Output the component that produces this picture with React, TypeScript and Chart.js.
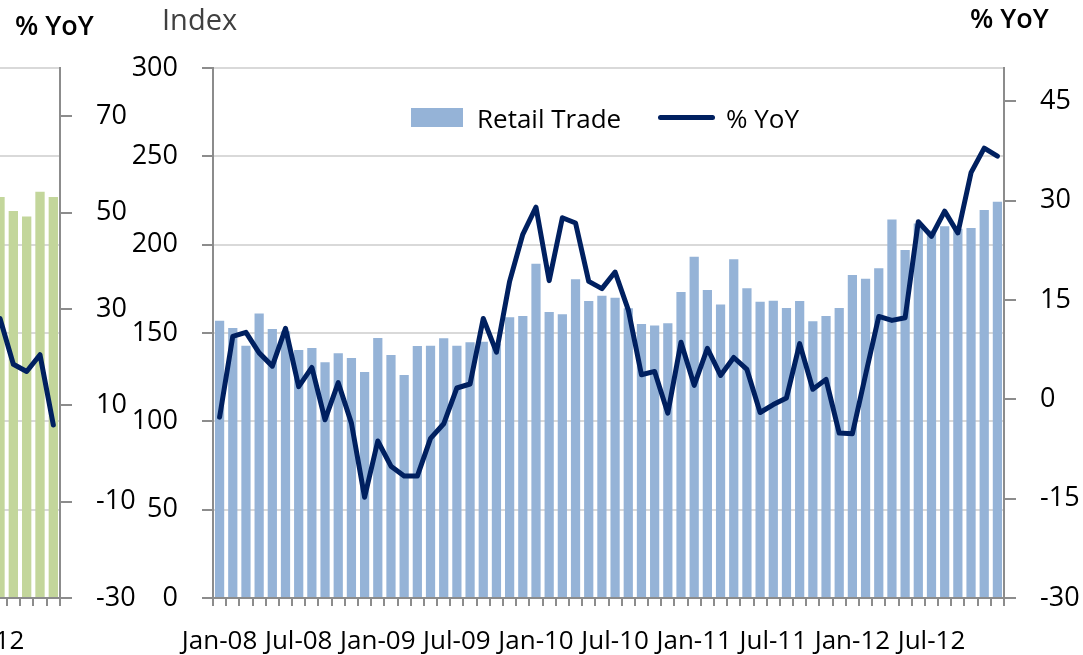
import React, { useEffect, useRef } from "react";
import { Chart, registerables } from "chart.js";

Chart.register(...registerables);

// ---------------- data ----------------
const months = [
  "Jan-08", "Feb-08", "Mar-08", "Apr-08", "May-08", "Jun-08", "Jul-08", "Aug-08", "Sep-08", "Oct-08", "Nov-08", "Dec-08",
  "Jan-09", "Feb-09", "Mar-09", "Apr-09", "May-09", "Jun-09", "Jul-09", "Aug-09", "Sep-09", "Oct-09", "Nov-09", "Dec-09",
  "Jan-10", "Feb-10", "Mar-10", "Apr-10", "May-10", "Jun-10", "Jul-10", "Aug-10", "Sep-10", "Oct-10", "Nov-10", "Dec-10",
  "Jan-11", "Feb-11", "Mar-11", "Apr-11", "May-11", "Jun-11", "Jul-11", "Aug-11", "Sep-11", "Oct-11", "Nov-11", "Dec-11",
  "Jan-12", "Feb-12", "Mar-12", "Apr-12", "May-12", "Jun-12", "Jul-12", "Aug-12", "Sep-12", "Oct-12", "Nov-12", "Dec-12",
];

const retailIndex = [
  157.0, 152.8, 142.8, 161.1, 152.3, 151.0, 140.4, 141.5, 133.4, 138.5, 135.8, 127.9,
  147.2, 137.5, 126.2, 142.6, 142.8, 147.0, 142.8, 144.7, 145.0, 144.0, 158.9, 159.6,
  189.2, 161.9, 160.6, 180.4, 168.1, 171.1, 170.0, 164.0, 155.1, 154.3, 155.5, 173.2,
  193.2, 174.3, 166.2, 191.7, 175.3, 167.7, 168.3, 164.1, 168.1, 156.6, 159.6, 164.1,
  182.8, 180.7, 186.6, 214.3, 197.0, 212.0, 208.0, 210.4, 209.0, 209.4, 219.6, 224.3,
];

const retailYoY = [
  -2.7, 9.5, 10.1, 7.0, 5.0, 10.7, 1.9, 4.8, -3.1, 2.5, -3.6, -14.8,
  -6.3, -10.1, -11.6, -11.6, -5.9, -3.7, 1.7, 2.3, 12.2, 7.1, 17.8, 24.9,
  29.0, 17.9, 27.4, 26.6, 17.8, 16.7, 19.2, 13.5, 3.7, 4.2, -2.1, 8.6,
  2.1, 7.7, 3.6, 6.3, 4.5, -2.0, -0.8, 0.2, 8.4, 1.5, 3.0, -5.1,
  -5.2, 3.7, 12.5, 11.9, 12.3, 26.8, 24.6, 28.4, 25.1, 34.2, 37.9, 36.7,
];

const yoyTicks = [-30, -15, 0, 15, 30, 45];

// partially visible chart on the left edge
const prevMonths = ["Jul-12", "Aug-12", "Sep-12", "Oct-12", "Nov-12", "Dec-12"];
const prevIndex = [null, 227, 219, 216, 230, 227];
const prevYoY = [null, 28.0, 18.5, 17.0, 20.5, 5.9];
const prevYoYTicks = [-30, -10, 10, 30, 50, 70];

// ---------------- styles ----------------
const FONT = "'Open Sans', 'Noto Sans', sans-serif";
const BAR_BLUE = "#95b3d7";
const BAR_GREEN = "#c3d69b";
const NAVY = "#002060";
const GRID = "#d9d9d9";
const AXIS = "#8c8c8c";
const TICK_FONT = { family: FONT, size: 26 };
const RIGHT_TICK_FONT = { family: FONT, size: 27 };

function showHalfYear(label: string) {
  return label.startsWith("Jan") || label.startsWith("Jul");
}

export default function App() {
  const mainRef = useRef<HTMLCanvasElement | null>(null);
  const prevRef = useRef<HTMLCanvasElement | null>(null);

  useEffect(() => {
    const main = new Chart(mainRef.current as HTMLCanvasElement, {
      type: "bar",
      data: {
        labels: months,
        datasets: [
          {
            type: "line",
            label: "% YoY",
            data: retailYoY,
            yAxisID: "yR",
            borderColor: NAVY,
            backgroundColor: NAVY,
            borderWidth: 5,
            pointRadius: 0,
            tension: 0,
            fill: false,
            borderJoinStyle: "round",
            borderCapStyle: "round",
            order: 0,
          } as any,
          {
            type: "bar",
            label: "Retail Trade",
            data: retailIndex,
            yAxisID: "y",
            backgroundColor: BAR_BLUE,
            barPercentage: 0.7,
            categoryPercentage: 1,
            order: 1,
          } as any,
        ],
      },
      options: {
        responsive: false,
        animation: false,
        devicePixelRatio: 1,
        layout: { padding: { top: 68, left: 0, right: 0, bottom: 0 } },
        plugins: { legend: { display: false }, tooltip: { enabled: false } },
        scales: {
          x: {
            grid: { offset: true, drawOnChartArea: false, tickLength: 8, tickColor: AXIS, tickWidth: 2, lineWidth: 2 },
            border: { display: true, color: AXIS, width: 2 },
            ticks: {
              autoSkip: false,
              maxRotation: 0,
              minRotation: 0,
              padding: 20,
              font: TICK_FONT,
              color: "#000",
              callback: (_v: any, i: number) => (showHalfYear(months[i]) ? months[i] : ""),
            },
            afterFit: (s: any) => {
              s.height = 57;
              s.paddingLeft = 0;
              s.paddingRight = 0;
            },
          },
          y: {
            position: "left",
            min: 0,
            max: 300,
            ticks: { stepSize: 50, padding: 24, font: RIGHT_TICK_FONT, color: "#000" },
            grid: { color: GRID, lineWidth: 2, tickLength: 11, tickColor: AXIS, tickWidth: 2 },
            border: { color: AXIS, width: 2 },
            afterFit: (s: any) => {
              s.width = 213;
            },
          },
          yR: {
            position: "right",
            min: -30,
            max: 50,
            ticks: { padding: 24, autoSkip: false, font: RIGHT_TICK_FONT, color: "#000" },
            grid: { drawOnChartArea: false, tickLength: 12, tickColor: AXIS, tickWidth: 2, lineWidth: 2 },
            border: { color: AXIS, width: 2 },
            afterBuildTicks: (s: any) => {
              s.ticks = yoyTicks.map((v) => ({ value: v }));
            },
            afterFit: (s: any) => {
              s.width = 79;
            },
          },
        },
      } as any,
    });

    const prev = new Chart(prevRef.current as HTMLCanvasElement, {
      type: "bar",
      data: {
        labels: prevMonths,
        datasets: [
          {
            type: "line",
            label: "% YoY",
            data: prevYoY,
            yAxisID: "yR",
            borderColor: NAVY,
            borderWidth: 5,
            pointRadius: 0,
            tension: 0,
            fill: false,
            borderJoinStyle: "round",
            borderCapStyle: "round",
            order: 0,
          } as any,
          {
            type: "bar",
            label: "Index",
            data: prevIndex,
            yAxisID: "y",
            backgroundColor: BAR_GREEN,
            barPercentage: 0.7,
            categoryPercentage: 1,
            order: 1,
          } as any,
        ],
      },
      options: {
        responsive: false,
        animation: false,
        devicePixelRatio: 1,
        layout: { padding: { top: 68, left: 0, right: 0, bottom: 0 } },
        plugins: { legend: { display: false }, tooltip: { enabled: false } },
        scales: {
          x: {
            grid: { offset: true, drawOnChartArea: false, tickLength: 8, tickColor: AXIS, tickWidth: 2, lineWidth: 2 },
            border: { display: true, color: AXIS, width: 2 },
            ticks: {
              autoSkip: false,
              maxRotation: 0,
              minRotation: 0,
              padding: 20,
              font: TICK_FONT,
              color: "#000",
              labelOffset: 4,
              callback: (_v: any, i: number) => (showHalfYear(prevMonths[i]) ? prevMonths[i] : ""),
            },
            afterFit: (s: any) => {
              s.height = 57;
              s.paddingLeft = 0;
              s.paddingRight = 0;
            },
          },
          y: {
            position: "left",
            min: 0,
            max: 300,
            ticks: { display: false, stepSize: 50 },
            grid: { color: GRID, lineWidth: 2, drawTicks: false },
            border: { display: false },
            afterFit: (s: any) => {
              s.width = 0;
            },
          },
          yR: {
            position: "right",
            min: -30,
            max: 80,
            ticks: { padding: 24, autoSkip: false, font: RIGHT_TICK_FONT, color: "#000" },
            grid: { drawOnChartArea: false, tickLength: 12, tickColor: AXIS, tickWidth: 2, lineWidth: 2 },
            border: { color: AXIS, width: 2 },
            afterBuildTicks: (s: any) => {
              s.ticks = prevYoYTicks.map((v) => ({ value: v }));
            },
            afterFit: (s: any) => {
              s.width = 100;
            },
          },
        },
      } as any,
    });

    return () => {
      main.destroy();
      prev.destroy();
    };
  }, []);

  const text = (extra: React.CSSProperties): React.CSSProperties => ({
    position: "absolute",
    fontFamily: FONT,
    fontSize: 26,
    lineHeight: "32px",
    color: "#000",
    whiteSpace: "nowrap",
    ...extra,
  });

  return (
    <div
      style={{
        position: "fixed",
        left: 0,
        top: 0,
        width: 1083,
        height: 655,
        overflow: "hidden",
        background: "#ffffff",
      }}
    >
      <canvas
        ref={prevRef}
        width={180}
        height={655}
        style={{ position: "absolute", left: -20, top: 0, width: 180, height: 655 }}
      />
      <canvas
        ref={mainRef}
        width={1083}
        height={655}
        style={{ position: "absolute", left: 0, top: 0, width: 1083, height: 655 }}
      />
      <div style={text({ left: 15, top: 9, fontSize: 27, fontWeight: 600 })}>% YoY</div>
      <div style={text({ left: 162, top: 3, fontSize: 29, color: "#404040" })}>Index</div>
      <div style={text({ left: 970, top: 2, fontSize: 27, fontWeight: 600 })}>% YoY</div>
      {/* legend */}
      <div style={{ position: "absolute", left: 411, top: 108, width: 52, height: 19, background: BAR_BLUE }} />
      <div style={text({ left: 477, top: 102 })}>Retail Trade</div>
      <div
        style={{
          position: "absolute",
          left: 658,
          top: 115,
          width: 57,
          height: 5,
          borderRadius: 3,
          background: NAVY,
        }}
      />
      <div style={text({ left: 726, top: 102 })}>% YoY</div>
    </div>
  );
}
